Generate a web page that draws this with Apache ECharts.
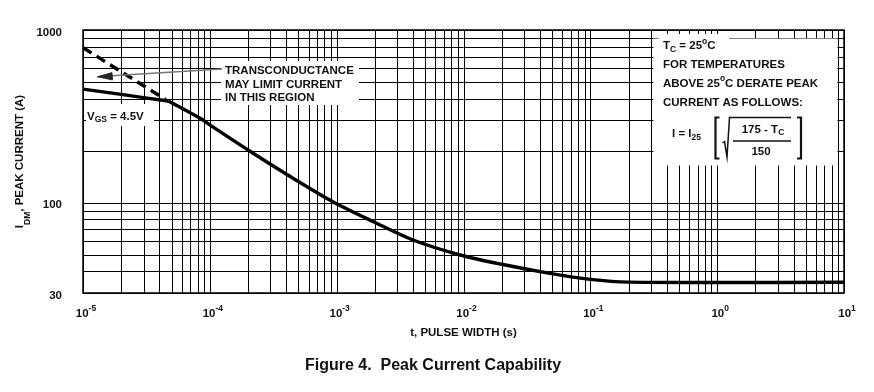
<!DOCTYPE html>
<html><head><meta charset="utf-8">
<script src="https://cdn.jsdelivr.net/npm/echarts@6/dist/echarts.min.js"></script>
<style>html,body{margin:0;padding:0;background:#fff}#c{width:874px;height:392px}</style>
</head><body><div id="c"></div>
<script>
const FONT = '"Liberation Sans", Arial, Helvetica, sans-serif';

// ---- tick labels ----
const xTickValues = [1e-5, 1e-4, 1e-3, 1e-2, 1e-1, 1, 10];
const xTickExponents = ['-5', '-4', '-3', '-2', '-1', '0', '1'];
const yTickValues = [30, 100, 1000];
const yTickLabels = ['30', '100', '1000'];

// ---- grid line positions ----
const yGridValues = [30, 40, 50, 60, 70, 80, 90, 100, 200, 300, 400, 500, 600, 700, 800, 900, 1000];
const xGridMultipliers = [1, 2, 3, 4, 5, 6, 7, 8, 9];
const xGridDecades = [1e-5, 1e-4, 1e-3, 1e-2, 1e-1, 1];

// ---- data: solid line before the knee (VGS = 4.5V) ----
const preKneeT = [1e-5, 2e-5, 3e-5, 4.7e-5];
const preKneeI = [455, 424, 406, 388];

// ---- data: main curve after the knee ----
const curveT = [4.7e-5, 8.4e-5, 1e-4, 2e-4, 4.8e-4, 9.4e-4, 1.95e-3, 4e-3, 9.4e-3, 2e-2, 4.8e-2, 1e-1, 2e-1, 1, 10];
const curveI = [388, 308, 282, 202, 135, 101, 77.6, 60.8, 49.8, 44, 39.0, 36.0, 34.7, 34.5, 34.6];

// ---- data: dashed transconductance-limit line ----
const dashT = [1e-5, 4.5e-5];
const dashI = [790, 395];

const zip = (a, b) => a.map((v, i) => [v, b[i]]);

const xGridValues = [];
xGridDecades.forEach(d => xGridMultipliers.forEach(m => xGridValues.push(m * d)));
xGridValues.push(10);

const X_MIN = 1e-5, X_MAX = 10, Y_MIN = 30, Y_MAX = 1000;

const chart = echarts.init(document.getElementById('c'), null, {renderer: 'canvas'});

const txt = {fontFamily: FONT, fontWeight: 'bold', color: '#111'};
const snap = v => Math.round(v) + 0.5;

const option = {
  animation: false,
  backgroundColor: '#fff',
  grid: {left: 83, right: 30, top: 30, bottom: 99, show: true, borderColor: '#000', borderWidth: 1.5, backgroundColor: 'transparent'},
  xAxis: {
    type: 'log', logBase: 10, min: X_MIN, max: X_MAX,
    axisLine: {show: false}, axisTick: {show: false}, axisLabel: {show: false}, splitLine: {show: false},
    name: 't, PULSE WIDTH (s)', nameLocation: 'middle', nameGap: 34,
    nameTextStyle: Object.assign({fontSize: 11.5}, txt)
  },
  yAxis: {
    type: 'log', logBase: 10, min: Y_MIN, max: Y_MAX,
    axisLine: {show: false}, axisTick: {show: false}, axisLabel: {show: false}, splitLine: {show: false},
    name: '{n|I}{sub|DM}{n|, PEAK CURRENT (A)}', nameLocation: 'middle', nameGap: 54, nameRotate: 90,
    nameTextStyle: {
      rich: {
        n: Object.assign({fontSize: 11.5, lineHeight: 15, verticalAlign: 'top'}, txt),
        sub: Object.assign({fontSize: 8.5, lineHeight: 9, verticalAlign: 'bottom', padding: [0, 0, -3, 0]}, txt)
      }
    }
  },
  series: [
    {
      type: 'custom', silent: true, z: 1, clip: false,
      data: xGridValues.map(v => [v, Y_MIN]),
      renderItem: (params, api) => {
        const a = api.coord([api.value(0), Y_MAX]);
        const b = api.coord([api.value(0), Y_MIN]);
        const x = snap(a[0]);
        return {type: 'line', shape: {x1: x, y1: a[1], x2: x, y2: b[1]}, style: {stroke: '#000', lineWidth: 1}};
      }
    },
    {
      type: 'custom', silent: true, z: 1, clip: false,
      data: yGridValues.map(v => [X_MIN, v]),
      renderItem: (params, api) => {
        const a = api.coord([X_MIN, api.value(1)]);
        const b = api.coord([X_MAX, api.value(1)]);
        const y = snap(a[1]);
        return {type: 'line', shape: {x1: a[0], y1: y, x2: b[0], y2: y}, style: {stroke: '#000', lineWidth: 1}};
      }
    },
    {
      type: 'line', data: zip(dashT, dashI), showSymbol: false, silent: true, z: 10,
      lineStyle: {color: '#000', width: 3.4, type: [10, 6], cap: 'butt'}
    },
    {
      type: 'line', data: zip(preKneeT, preKneeI), showSymbol: false, silent: true, z: 10,
      lineStyle: {color: '#000', width: 3.4}
    },
    {
      type: 'line', data: zip(curveT, curveI), showSymbol: false, silent: true, z: 10,
      smooth: 0.3,
      lineStyle: {color: '#000', width: 3.4}
    }
  ]
};
chart.setOption(option);

// ---- tick labels & annotations ----
const g = [];
const base = {fontFamily: FONT, fontWeight: 'bold', fill: '#111'};
function rtext(x, y, text, rich, align, valign, z) {
  g.push({type: 'text', x: x, y: y, z: z || 120, silent: true,
    style: {text: text, rich: rich, align: align || 'left', verticalAlign: valign || 'middle', fill: '#111', font: 'bold 11px ' + FONT}});
}
const supRich = {
  b: Object.assign({fontSize: 11.5, lineHeight: 15, verticalAlign: 'bottom'}, base),
  s: Object.assign({fontSize: 8.5, lineHeight: 9, verticalAlign: 'top'}, base),
  u: Object.assign({fontSize: 8.5, lineHeight: 9, verticalAlign: 'bottom', padding: [0, 0, -2, 0]}, base)
};

xTickValues.forEach((v, i) => {
  const p = chart.convertToPixel({gridIndex: 0}, [v, Y_MIN]);
  rtext(p[0] + 3, p[1] + 19, '{b|10}{s|' + xTickExponents[i] + '}', supRich, 'center', 'middle');
});
yTickValues.forEach((v, i) => {
  const p = chart.convertToPixel({gridIndex: 0}, [X_MIN, v]);
  rtext(p[0] - 21, p[1] + 1, '{b|' + yTickLabels[i] + '}', supRich, 'right', 'middle');
});

// white backgrounds
function wrect(x, y, w, h) {
  g.push({type: 'rect', z: 100, silent: true, shape: {x: x, y: y, width: w, height: h}, style: {fill: '#fff'}});
}
wrect(221, 61, 138, 44);      // transconductance note
wrect(86, 104, 68, 22);       // VGS label
wrect(653.5, 38.5, 184, 127); // derating box
wrect(659, 34, 70, 18);       // Tc line

// transconductance note
rtext(225, 69.5, '{b|TRANSCONDUCTANCE}', supRich);
rtext(225, 83, '{b|MAY LIMIT CURRENT}', supRich);
rtext(225, 96.5, '{b|IN THIS REGION}', supRich);
// arrow
g.push({type: 'line', z: 110, silent: true, shape: {x1: 222, y1: 69, x2: 108, y2: 76}, style: {stroke: '#777', lineWidth: 1.3}});
g.push({type: 'polygon', z: 111, silent: true, shape: {points: [[97, 76.8], [112, 72.6], [112.6, 80]]}, style: {fill: '#222', stroke: '#222', lineWidth: 0.8}});

// VGS label
rtext(87, 115, '{b|V}{u|GS}{b| = 4.5V}', supRich);

// derating box
rtext(663, 44.5, '{b|T}{u|C}{b| = 25}{s|o}{b|C}', supRich);
rtext(663, 63, '{b|FOR TEMPERATURES}', supRich);
rtext(663, 82, '{b|ABOVE 25}{s|o}{b|C DERATE PEAK}', supRich);
rtext(663, 101, '{b|CURRENT AS FOLLOWS:}', supRich);
rtext(672, 132.5, '{b|I = I}{u|25}', supRich);
rtext(763, 128, '{b|175 - T}{u|C}', supRich, 'center');
rtext(761, 150.5, '{b|150}', supRich, 'center');
// brackets
g.push({type: 'polyline', z: 110, silent: true, shape: {points: [[719.5, 117.5], [715.5, 117.5], [715.5, 158.5], [719.5, 158.5]]}, style: {stroke: '#111', lineWidth: 2.2, fill: null}});
g.push({type: 'polyline', z: 110, silent: true, shape: {points: [[797, 117.5], [801, 117.5], [801, 158.5], [797, 158.5]]}, style: {stroke: '#111', lineWidth: 2.2, fill: null}});
// sqrt sign
g.push({type: 'polyline', z: 110, silent: true, shape: {points: [[722.5, 143], [724.5, 141.5], [727, 157], [729.5, 117.5], [791, 117.5]]}, style: {stroke: '#111', lineWidth: 1.5, fill: null}});
// fraction bar
g.push({type: 'line', z: 110, silent: true, shape: {x1: 733, y1: 141, x2: 791, y2: 141}, style: {stroke: '#111', lineWidth: 1.5}});

// caption
g.push({type: 'text', x: 433, y: 366, z: 120, silent: true,
  style: {text: 'Figure 4.  Peak Current Capability', font: 'bold 16px ' + FONT, fill: '#111', align: 'center', verticalAlign: 'middle'}});

chart.setOption({graphic: {elements: g}});
</script>
</body></html>
